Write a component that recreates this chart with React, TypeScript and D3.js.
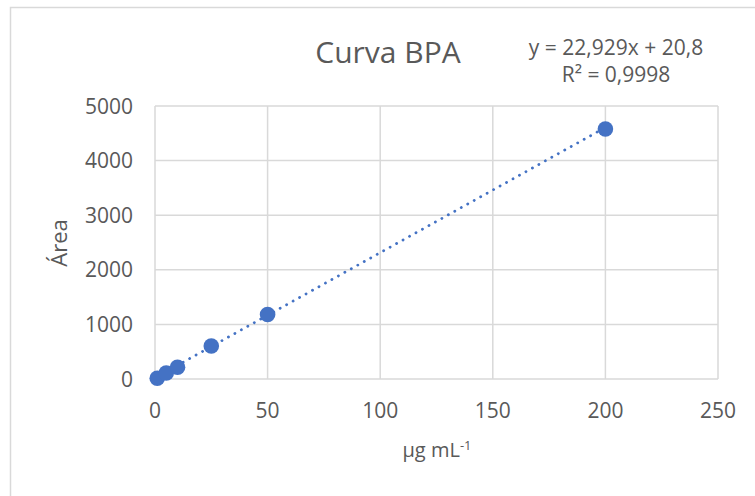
import React from "react";
import * as d3 from "d3";

const concentrations = [1, 5, 10, 25, 50, 200];
const areas = [15, 110, 215, 605, 1180, 4580];
const xTicks = [0, 50, 100, 150, 200, 250];
const yTicks = [0, 1000, 2000, 3000, 4000, 5000];
const slope = 22.929;
const intercept = 20.8;
const titleText = "Curva BPA";
const eqLine1 = "y = 22,929x + 20,8";
const eqLine2 = "R² = 0,9998";

export default function App() {
  const W = 755, H = 496;
  const left = 155, right = 718, top = 106, bottom = 379;
  const x = d3.scaleLinear().domain([0, 250]).range([left, right]);
  const y = d3.scaleLinear().domain([0, 5000]).range([bottom, top]);
  const font = "'Open Sans', sans-serif";
  const txt = "#595959";
  const blue = "#4472C4";
  const x0 = d3.min(concentrations)!, x1 = d3.max(concentrations)!;
  const trend = d3.line<number>().x(d => x(d)).y(d => y(slope * d + intercept));
  return (
    <svg width={W} height={H} style={{ position: "absolute", left: 0, top: 0 }}>
      <rect x={0} y={0} width={W} height={H} fill="#fff" />
      <rect x={10.5} y={7.5} width={W + 20} height={H + 20} fill="#fff" stroke="#D9D9D9" strokeWidth={1.5} />
      {yTicks.map(t => (
        <line key={"gy" + t} x1={left} x2={right} y1={y(t)} y2={y(t)} stroke="#D9D9D9" strokeWidth={1.5} />
      ))}
      {xTicks.map(t => (
        <line key={"gx" + t} x1={x(t)} x2={x(t)} y1={top} y2={bottom} stroke="#D9D9D9" strokeWidth={1.5} />
      ))}
      {yTicks.map(t => (
        <text key={"ty" + t} x={133} y={y(t) + 7.5} textAnchor="end" fontFamily={font} fontSize={21} fill={txt}>{t}</text>
      ))}
      {xTicks.map(t => (
        <text key={"tx" + t} x={x(t)} y={418} textAnchor="middle" fontFamily={font} fontSize={21} fill={txt}>{t}</text>
      ))}
      <path d={trend([x0, x1]) || ""} fill="none" stroke={blue} strokeWidth={2.8} strokeDasharray="0.1 7.3" strokeLinecap="round" />
      {concentrations.map((c, i) => (
        <circle key={"p" + i} cx={x(c)} cy={y(areas[i])} r={7.8} fill={blue} />
      ))}
      <text x={388} y={63} textAnchor="middle" fontFamily={font} fontSize={30} fill={txt}>{titleText}</text>
      <text x={616} y={55} textAnchor="middle" fontFamily={font} fontSize={21} fill={txt}>{eqLine1}</text>
      <text x={616} y={82} textAnchor="middle" fontFamily={font} fontSize={21} fill={txt}>{eqLine2}</text>
      <text x={437} y={457} textAnchor="middle" fontFamily={font} fontSize={20} fill={txt}>
        µg mL<tspan dy="-0.55em" fontSize={13}>-1</tspan>
      </text>
      <text transform={`translate(67,243) rotate(-90)`} textAnchor="middle" fontFamily={font} fontSize={22} fill={txt}>Área</text>
    </svg>
  );
}
